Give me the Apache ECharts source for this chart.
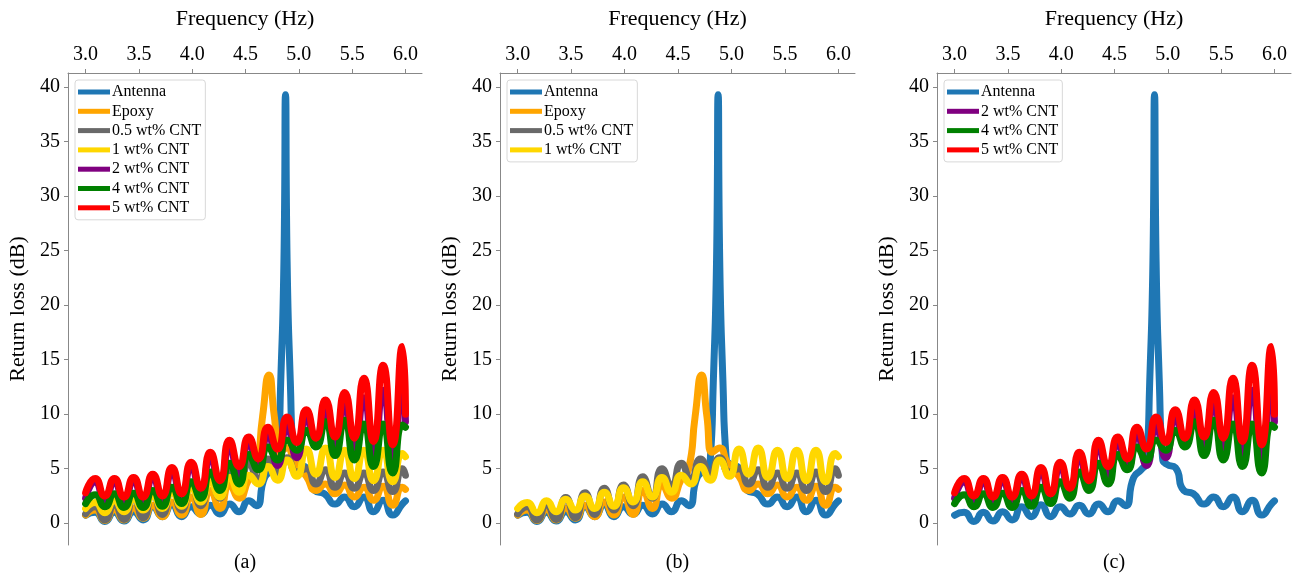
<!DOCTYPE html>
<html>
<head>
<meta charset="utf-8">
<script src="https://cdn.jsdelivr.net/npm/echarts@6/dist/echarts.min.js"></script>
<style>
html,body{margin:0;padding:0;background:#fff;}
#chart{width:1300px;height:578px;}
</style>
</head>
<body>
<div id="chart"></div>
<script>
// ---- data ----
const freq = [3.00,3.09,3.18,3.27,3.36,3.45,3.54,3.63,3.72,3.81,3.90,3.99,4.08,4.17,4.26,4.35,4.44,4.53,4.62,4.71,4.80,4.89,4.98,5.07,5.16,5.25,5.34,5.43,5.52,5.61,5.70,5.79,5.88,5.97,6.00];

const antennaFreq = [3.00,3.09,3.18,3.27,3.36,3.45,3.54,3.63,3.72,3.81,3.90,3.99,4.08,4.17,4.26,4.35,4.44,4.53,4.60,4.68,4.75,4.80,4.83,4.86,4.875,4.89,4.92,4.95,4.99,5.07,5.15,5.24,5.34,5.43,5.52,5.61,5.70,5.79,5.88,5.97,6.00];
const antenna = [0.73,1.0,0.15,1.0,0.2,1.05,0.3,1.5,0.6,1.7,0.6,1.5,0.85,1.65,0.85,1.75,1.05,2.05,1.6,4.2,4.9,5.6,13,24,39.3,24,13,6.0,5.4,5.1,3.0,2.7,1.75,2.4,1.5,2.4,1.05,2.1,0.75,1.75,2.05];

const epoxyFreq = [3.00,3.09,3.18,3.27,3.36,3.45,3.54,3.63,3.72,3.81,3.90,3.99,4.08,4.17,4.26,4.35,4.44,4.53,4.60,4.66,4.72,4.77,4.82,4.89,4.96,5.07,5.16,5.25,5.34,5.43,5.52,5.61,5.70,5.79,5.88,5.97,6.00];
const epoxy = [0.75,1.2,0.25,1.25,0.3,1.4,0.45,1.65,0.6,1.95,0.75,2.4,0.8,3.0,1.35,3.5,2.3,4.0,5.0,9.8,13.6,9.8,6.5,6.9,5.6,4.3,3.0,3.6,2.7,3.5,2.4,3.3,2.1,3.4,1.65,3.3,3.1];

const cnt05 = [0.85,1.5,0.3,1.7,0.35,2.35,0.5,2.8,0.8,3.2,1.2,3.5,1.6,4.25,2.3,5.0,3.4,5.5,4.0,5.9,4.6,6.0,4.7,5.0,3.6,4.9,3.3,4.6,3.2,4.6,3.0,4.7,2.9,5.0,4.4];
const cnt1 = [1.35,1.9,0.95,2.05,1.05,2.2,1.2,2.5,1.35,2.85,1.55,3.25,1.95,3.8,2.4,4.2,2.85,4.4,3.6,5.2,3.95,5.8,4.3,6.8,4.5,6.9,4.2,6.7,4.1,6.7,3.9,6.7,3.8,6.4,6.1];
const cnt2 = [2.3,3.8,2.0,3.8,1.9,3.9,1.9,4.2,2.0,4.7,2.2,5.2,2.7,6.0,3.4,7.0,4.2,7.4,5.0,8.2,5.3,8.9,6.0,9.7,7.2,10.3,7.0,10.8,6.6,11.5,6.0,12.2,5.5,13.0,9.3];
const cnt4 = [1.8,2.6,1.5,2.7,1.45,2.75,1.45,3.0,1.55,3.3,1.8,3.8,2.3,4.7,3.0,5.5,3.6,6.3,4.9,7.0,5.8,7.6,6.7,8.5,7.0,9.3,6.2,9.45,5.8,9.1,5.2,9.1,4.6,9.0,8.8];
const cnt5 = [2.8,4.1,2.5,4.1,2.4,4.2,2.4,4.5,2.5,5.1,2.7,5.6,3.2,6.5,3.9,7.6,5.2,7.9,5.9,8.8,6.8,9.75,7.4,10.4,7.8,11.3,7.9,12.0,7.8,13.3,7.5,14.5,7.2,16.2,10.0];

const xTicks = [3.0,3.5,4.0,4.5,5.0,5.5,6.0];
const yTicks = [0,5,10,15,20,25,30,35,40];
const panelLabels = ['(a)','(b)','(c)'];

// ---- series definitions ----
const seriesDefs = {
  'Antenna':     {x: antennaFreq, y: antenna, color: '#1f77b4'},
  'Epoxy':       {x: epoxyFreq,   y: epoxy,   color: '#FFA500'},
  '0.5 wt% CNT': {x: freq, y: cnt05, color: '#696969'},
  '1 wt% CNT':   {x: freq, y: cnt1,  color: '#FFD700'},
  '2 wt% CNT':   {x: freq, y: cnt2,  color: '#800080'},
  '4 wt% CNT':   {x: freq, y: cnt4,  color: '#008000'},
  '5 wt% CNT':   {x: freq, y: cnt5,  color: '#FF0000'}
};
const panelSeries = [
  ['Antenna','Epoxy','0.5 wt% CNT','1 wt% CNT','2 wt% CNT','4 wt% CNT','5 wt% CNT'],
  ['Antenna','Epoxy','0.5 wt% CNT','1 wt% CNT'],
  ['Antenna','2 wt% CNT','4 wt% CNT','5 wt% CNT']
];

// ---- layout ----
const FONT = "'Liberation Serif','DejaVu Serif','Times New Roman',serif";
const panels = [
  {left: 68,  width: 354},
  {left: 500, width: 355},
  {left: 937, width: 354}
];
const GRID_TOP = 73, GRID_H = 472;

const chart = echarts.init(document.getElementById('chart'), null, {renderer: 'canvas'});

const series = [];
panelSeries.forEach((names, pi) => {
  names.forEach((name, k) => {
    const d = seriesDefs[name];
    series.push({
      name: name,
      type: 'line',
      xAxisIndex: pi,
      yAxisIndex: pi,
      data: d.x.map((f, i) => [f, d.y[i]]),
      showSymbol: false,
      smooth: 0.6,
      color: d.color,
      itemStyle: {color: d.color},
      lineStyle: {width: 7, color: d.color, cap: 'round', join: 'round'},
      emphasis: {disabled: true},
      z: 2 + k
    });
  });
});

const option = {
  animation: false,
  backgroundColor: '#ffffff',
  grid: panels.map(p => ({left: p.left, top: GRID_TOP, width: p.width, height: GRID_H})),
  xAxis: panels.map((p, i) => ({
    type: 'value', gridIndex: i, position: 'top',
    min: 2.835, max: 6.155,
    name: 'Frequency (Hz)', nameLocation: 'middle', nameGap: 43,
    nameTextStyle: {fontFamily: FONT, fontSize: 22, color: '#000'},
    axisLine: {show: true, onZero: false, lineStyle: {color: '#888', width: 1}},
    axisTick: {show: true, length: 4, customValues: xTicks, lineStyle: {color: '#888'}},
    axisLabel: {customValues: xTicks, formatter: v => Number(v).toFixed(1), fontFamily: FONT, fontSize: 20, color: '#000', margin: 8},
    splitLine: {show: false}
  })),
  yAxis: panels.map((p, i) => ({
    type: 'value', gridIndex: i, position: 'left',
    min: -2, max: 41.3,
    name: 'Return loss (dB)', nameLocation: 'middle', nameGap: 39, nameRotate: 90,
    nameTextStyle: {fontFamily: FONT, fontSize: 22, color: '#000'},
    axisLine: {show: true, onZero: false, lineStyle: {color: '#888', width: 1}},
    axisTick: {show: true, length: 4, customValues: yTicks, lineStyle: {color: '#888'}},
    axisLabel: {customValues: yTicks, fontFamily: FONT, fontSize: 20, color: '#000', margin: 8},
    splitLine: {show: false}
  })),
  legend: panelSeries.map((names, i) => ({
    data: names,
    orient: 'vertical',
    align: 'left',
    left: panels[i].left + 7,
    top: 80,
    icon: 'rect',
    itemWidth: 32,
    itemHeight: 5,
    itemGap: 3.3,
    padding: [4, 4, 4, 3],
    backgroundColor: '#fff',
    borderColor: '#d8d8d8',
    borderWidth: 1,
    borderRadius: 3,
    selectedMode: false,
    textStyle: {fontFamily: FONT, fontSize: 16, color: '#000', lineHeight: 16, padding: [0, 0, 0, -3]}
  })),
  graphic: panels.map((p, i) => ({
    type: 'text',
    x: p.left + p.width / 2,
    y: 563,
    style: {text: panelLabels[i], fill: '#000', font: '20px ' + FONT, textAlign: 'center', textVerticalAlign: 'middle'}
  })),
  series: series
};

chart.setOption(option);
</script>
</body>
</html>
